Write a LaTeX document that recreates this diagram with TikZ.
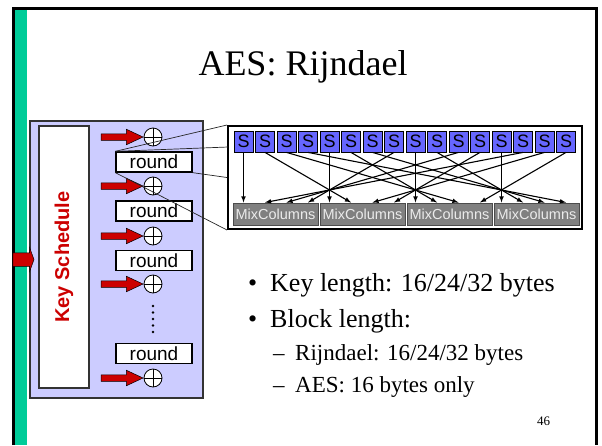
\documentclass[tikz,border=0pt]{standalone}
\usepackage{fontspec}
\setmainfont{Liberation Serif}
\setsansfont{Liberation Sans}
\usetikzlibrary{shapes.arrows}

\definecolor{slidegreen}{RGB}{0,204,153}
\definecolor{panelblue}{RGB}{204,204,255}
\definecolor{sboxblue}{RGB}{102,102,255}
\definecolor{keyred}{RGB}{204,0,0}
\definecolor{mixgray}{RGB}{128,128,128}

\tikzset{
  sboxnode/.style={draw=black, line width=0.8pt, fill=sboxblue, minimum width=19pt, minimum height=21pt, inner sep=0pt, font=\sffamily\fontsize{18}{18}\selectfont},
  mixnode/.style={draw=black!70, line width=1pt, fill=mixgray, text=black!8, minimum width=85pt, minimum height=22pt, inner sep=0pt, font=\sffamily\fontsize{14.5}{14.5}\selectfont},
  roundnode/.style={draw=black, line width=1.3pt, fill=white, minimum width=76pt, minimum height=20pt, inner sep=0pt, font=\sffamily\fontsize{19}{19}\selectfont},
  oplus/.style={circle, draw=black, line width=0.8pt, fill=white, minimum size=18pt, inner sep=0pt,
    path picture={\draw[line width=0.8pt] (path picture bounding box.north) -- (path picture bounding box.south)
      (path picture bounding box.west) -- (path picture bounding box.east);}},
  keyarrow/.style={single arrow, draw=black, line width=0.5pt, fill=keyred, inner xsep=0pt, inner ysep=3pt,
    single arrow head extend=4.5pt, single arrow tip angle=50, minimum height=42pt},
  zoomline/.style={line width=0.7pt, black!85},
  bigtext/.style={anchor=base west, inner sep=0pt, font=\fontsize{26}{26}\selectfont},
  subtext/.style={anchor=base west, inner sep=0pt, font=\fontsize{23}{23}\selectfont},
}

\begin{document}
\begin{tikzpicture}[x=1pt, y=-1pt, line join=miter]

  \useasboundingbox (0,0) rectangle (602,445);

  \fill[slidegreen] (15,10) rectangle (27,445);
  \draw[line width=3pt] (13.5,445) -- (13.5,8.5) -- (596.5,8.5) -- (596.5,445);

  \node[anchor=base, inner sep=0pt, font=\fontsize{36}{36}\selectfont] (title) at (303,75) {AES: Rijndael};

  % rounds and key schedule
  \node[draw=black!80, line width=1.5pt, fill=panelblue, minimum width=173pt, minimum height=277pt] (panel) at (116.5,259.5) {};
  \node[draw=black!80, line width=1.5pt, fill=white, minimum width=50pt, minimum height=262pt] (ksbox) at (64,257) {};
  \node[rotate=90, text=keyred, font=\sffamily\bfseries\fontsize{20}{20}\selectfont] (kslabel) at (ksbox) {Key Schedule};

  \node[single arrow, draw=black, line width=0.5pt, fill=keyred, inner xsep=0pt, inner ysep=6.5pt,
    single arrow head extend=5pt, single arrow tip angle=140, minimum height=21pt, anchor=tip] (kin) at ([xshift=5pt]panel.west) {};

  \foreach \k/\yy in {1/162,2/211,3/260.5,4/353.5}
    \node[roundnode] (rnd\k) at (154,\yy) {round};

  \foreach \k/\yy in {1/137,2/186,3/236,4/284,5/378} {
    \node[oplus] (xr\k) at (153,\yy) {};
    \node[keyarrow, anchor=tip] (ka\k) at (xr\k.west) {};
  }

  \foreach \k in {0,...,4}
    \fill (153,306+6.5*\k) circle (1.3pt);

  % one round in detail
  \node[draw=black, line width=2pt, fill=white, minimum width=354pt, minimum height=103pt] (bigbox) at (405,177.5) {};

  \foreach \i in {0,...,15}
    \node[sboxnode] (s\i) at (243.5+21.5*\i,141.5) {S};

  \foreach \c in {0,...,3}
    \node[mixnode] (mc\c) at (275.5+87*\c,214) {MixColumns};

  \foreach \c in {0,...,3}
    \foreach \r in {0,...,3} {
      \pgfmathtruncatemacro\src{4*mod(\c-\r+4,4)+\r}
      \pgfmathtruncatemacro\tgt{4*\c+\r}
      \draw[->, >=latex, line width=1.1pt] (s\src.south) -- (s\tgt.south |- mc\c.north);
    }

  \coordinate (zs) at (228,147);
  \draw[zoomline] (rnd1.north west) -- (bigbox.north west);
  \draw[zoomline] (rnd1.north west) -- (zs);
  \draw[zoomline] (rnd1.south east) -- (bigbox.west);
  \draw[zoomline] (rnd1.south west) -- (bigbox.south west);

  % bullets
  \node[bigtext] (b1) at (248,291) {\textbullet};
  \node[bigtext] (t1) at (270,291) {Key length: 16/24/32 bytes};
  \node[bigtext] (b2) at (248,327) {\textbullet};
  \node[bigtext] (t2) at (270,327) {Block length:};
  \node[subtext] (d1) at (273,360) {--};
  \node[subtext] (u1) at (295,360) {Rijndael: 16/24/32 bytes};
  \node[subtext] (d2) at (273,392) {--};
  \node[subtext] (u2) at (295,392) {AES: 16 bytes only};

  \node[anchor=base west, inner sep=0pt, font=\fontsize{13}{13}\selectfont] (pg) at (537,425) {46};

\end{tikzpicture}
\end{document}
